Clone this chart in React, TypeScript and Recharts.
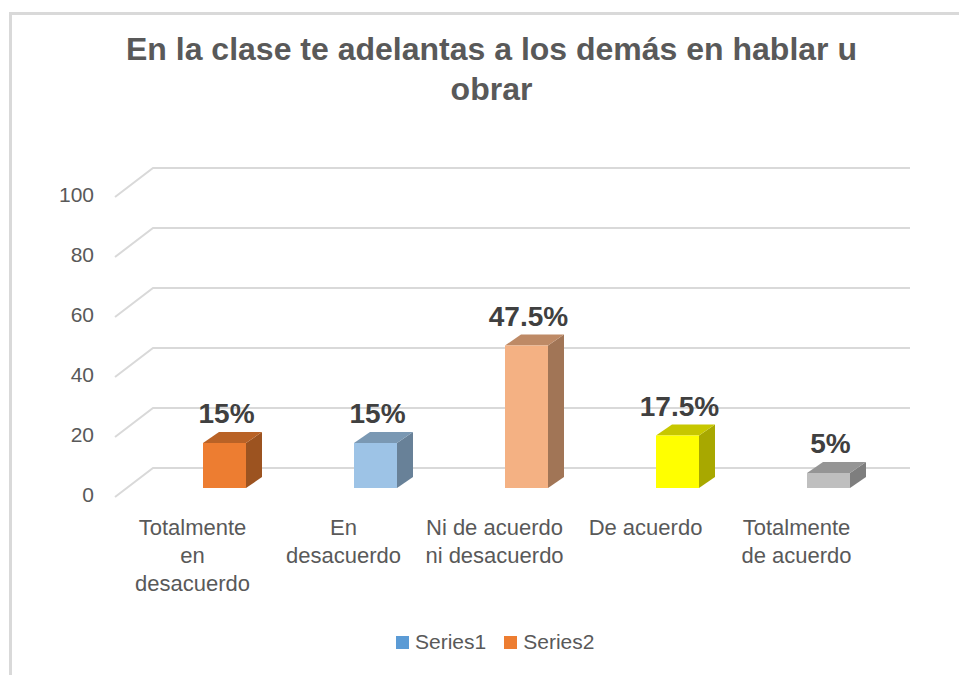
import { BarChart, Bar, XAxis, YAxis, CartesianGrid, LabelList } from 'recharts'

// chart data
const categories = [
  'Totalmente en desacuerdo',
  'En desacuerdo',
  'Ni de acuerdo ni desacuerdo',
  'De acuerdo',
  'Totalmente de acuerdo',
]
const tickLines = [
  ['Totalmente', 'en', 'desacuerdo'],
  ['En', 'desacuerdo'],
  ['Ni de acuerdo', 'ni desacuerdo'],
  ['De acuerdo'],
  ['Totalmente', 'de acuerdo'],
]
const values = [15, 15, 47.5, 17.5, 5]
const barColors = ['#ED7D31', '#9DC3E6', '#F4B183', '#FFFF00', '#BFBFBF']
const yTicks = [0, 20, 40, 60, 80, 100]
const titleLines = ['En la clase te adelantas a los demás en hablar u', 'obrar']
const legendItems = [
  { name: 'Series1', color: '#5B9BD5' },
  { name: 'Series2', color: '#ED7D31' },
]

const FONT = '"Liberation Sans", Arial, sans-serif'
const DX = 16
const DY = -11

const data = categories.map((name, i) => ({ name, value: values[i] }))

const shade = (hex: string, f: number) => {
  const n = parseInt(hex.slice(1), 16)
  const r = Math.round(((n >> 16) & 255) * f)
  const g = Math.round(((n >> 8) & 255) * f)
  const b = Math.round((n & 255) * f)
  return `rgb(${r},${g},${b})`
}

// 3D-ish box for each bar
const Box = (props: any) => {
  const { x, y, width, height, index } = props
  const c = barColors[index % barColors.length]
  const top = `${x},${y} ${x + DX},${y + DY} ${x + width + DX},${y + DY} ${x + width},${y}`
  const side = `${x + width},${y} ${x + width + DX},${y + DY} ${x + width + DX},${y + height + DY} ${x + width},${y + height}`
  return (
    <g>
      <polygon points={side} fill={shade(c, 0.66)} />
      <polygon points={top} fill={shade(c, 0.78)} />
      <rect x={x} y={y} width={width} height={height} fill={c} />
    </g>
  )
}

// slanted floor + back wall grid lines
const GridLine = (props: any) => {
  const { x1, x2, y1 } = props
  const d = `M${x1 - 34},${y1 + 9} L${x1 + 4},${y1 - 20} L${x2 + 6},${y1 - 20}`
  return <path key={`g-${y1}`} d={d} stroke="#D9D9D9" strokeWidth={2} fill="none" />
}

const YTick = (props: any) => {
  const { x, y, payload } = props
  return (
    <text x={x - 55} y={y + 14} textAnchor="end" fill="#595959" fontSize={21} fontFamily={FONT}>
      {payload.value}
    </text>
  )
}

// category labels sit on the front edge, so they drift left of the bars
const XTick = (props: any) => {
  const { x, y, index } = props
  const lines = tickLines[index] || []
  return (
    <text textAnchor="middle" fill="#595959" fontSize={22} fontFamily={FONT}>
      {lines.map((l, i) => (
        <tspan key={i} x={x - 32} y={y + 47 + i * 28}>
          {l}
        </tspan>
      ))}
    </text>
  )
}

const ValueLabel = (props: any) => {
  const { x, y, width, value } = props
  return (
    <text
      x={x + width / 2 + 2}
      y={y - 20}
      textAnchor="middle"
      fill="#404040"
      fontSize={28}
      fontWeight="bold"
      fontFamily={FONT}
    >
      {value}%
    </text>
  )
}

export default function App() {
  return (
    <div style={{ position: 'absolute', left: 0, top: 0, width: 959, height: 675, background: '#fff', fontFamily: FONT }}>
      <div
        style={{
          position: 'absolute',
          left: 9,
          top: 12,
          width: 950,
          height: 663,
          borderTop: '3px solid #D9D9D9',
          borderLeft: '3px solid #D9D9D9',
        }}
      />
      <div
        style={{
          position: 'absolute',
          left: 12,
          top: 29,
          width: 959,
          textAlign: 'center',
          color: '#595959',
          fontWeight: 'bold',
          fontSize: 32,
          lineHeight: '40px',
          whiteSpace: 'nowrap',
        }}
      >
        {titleLines.map((t) => (
          <div key={t}>{t}</div>
        ))}
      </div>
      <div style={{ position: 'absolute', left: 0, top: 0 }}>
        <BarChart width={959} height={675} data={data} margin={{ top: 188, right: 55, bottom: 87, left: 89 }}>
          <CartesianGrid vertical={false} horizontal={GridLine} />
          <XAxis
            dataKey="name"
            axisLine={false}
            tickLine={false}
            tickSize={0}
            tickMargin={0}
            height={100}
            interval={0}
            tick={XTick}
          />
          <YAxis
            domain={[0, 100]}
            ticks={yTicks}
            axisLine={false}
            tickLine={false}
            tickSize={0}
            tickMargin={0}
            width={60}
            tick={YTick}
          />
          <Bar dataKey="value" barSize={43} shape={Box} isAnimationActive={false}>
            <LabelList dataKey="value" content={ValueLabel} />
          </Bar>
        </BarChart>
      </div>
      <div
        style={{
          position: 'absolute',
          left: 396,
          top: 630,
          display: 'flex',
          alignItems: 'center',
          color: '#595959',
          fontSize: 21,
        }}
      >
        {legendItems.map((it) => (
          <div key={it.name} style={{ display: 'flex', alignItems: 'center', marginRight: 18 }}>
            <span style={{ width: 13, height: 13, background: it.color, display: 'inline-block', marginRight: 6 }} />
            <span>{it.name}</span>
          </div>
        ))}
      </div>
    </div>
  )
}
